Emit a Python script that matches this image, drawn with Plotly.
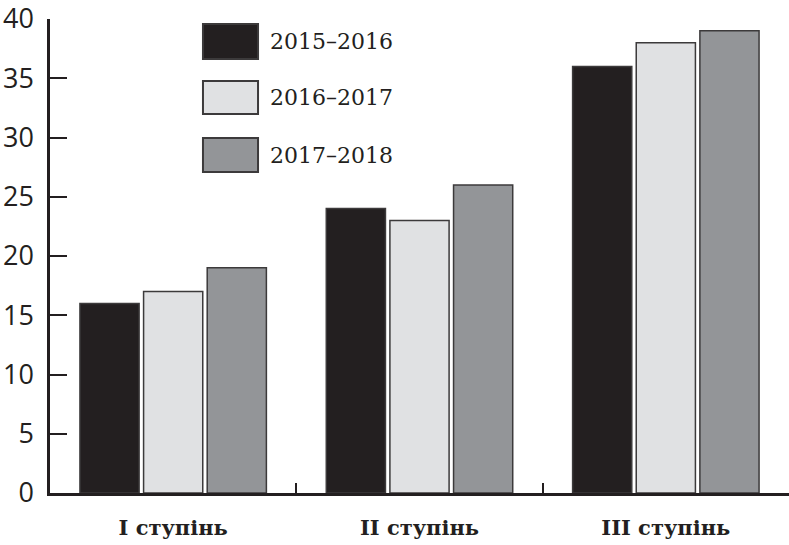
import plotly.graph_objects as go

categories = ["I ступінь", "II ступінь", "III ступінь"]
series_names = ["2015–2016", "2016–2017", "2017–2018"]
values_2015 = [16, 24, 36]
values_2016 = [17, 23, 38]
values_2017 = [19, 26, 39]
y_ticks = [0, 5, 10, 15, 20, 25, 30, 35, 40]

colors = ["#231f20", "#e0e1e3", "#939598"]
ink = "#231f20"

fig = go.Figure()
for name, vals, col in zip(series_names, [values_2015, values_2016, values_2017], colors):
    fig.add_trace(go.Bar(
        x=categories, y=vals, name=name,
        marker=dict(color=col, line=dict(color="#3c3a3b", width=1.5)),
        showlegend=False,
    ))

# custom legend with large swatches (paper coordinates)
rows = [(0.9895, 0.9156), (0.8692, 0.7996), (0.7489, 0.6772)]
for (top, bot), name, col in zip(rows, series_names, colors):
    fig.add_shape(type="rect", xref="paper", yref="paper",
                  x0=0.207, x1=0.2815, y0=bot, y1=top,
                  fillcolor=col, line=dict(color="#3c3a3b", width=2))
    fig.add_annotation(xref="paper", yref="paper", x=0.295, y=(top + bot) / 2,
                       text=name, showarrow=False, xanchor="left", yanchor="middle",
                       font=dict(family="DejaVu Serif", size=22, color=ink))

fig.update_layout(
    width=789, height=545,
    margin=dict(l=50, r=0, t=19, b=52),
    paper_bgcolor="white", plot_bgcolor="white",
    barmode="group", bargap=0.225, bargroupgap=0.07,
    xaxis=dict(
        showline=True, linecolor=ink, linewidth=2.5, automargin=False,
        ticks="inside", tickson="boundaries", ticklen=10, tickwidth=1.5, tickcolor=ink,
        tickfont=dict(family="DejaVu Serif", size=21, color=ink, weight="bold"),
        ticklabelstandoff=14, showgrid=False,
    ),
    yaxis=dict(
        range=[0, 40], tickvals=y_ticks, automargin=False,
        showline=True, linecolor=ink, linewidth=2.5,
        ticks="inside", ticklen=17, tickwidth=2, tickcolor=ink,
        tickfont=dict(family="Open Sans", size=27, color=ink),
        ticklabelstandoff=8, ticklabeloverflow="allow",
        showgrid=False, zeroline=False,
    ),
)

fig.write_html(
    "out.html",
    config={"displayModeBar": False},
    post_script="document.body.style.margin='0';document.body.style.overflow='hidden';",
)
